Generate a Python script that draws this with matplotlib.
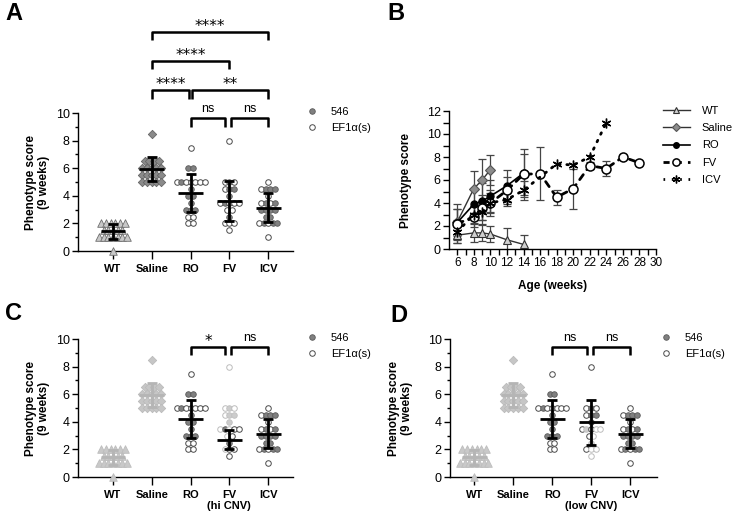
import numpy as np
import matplotlib.pyplot as plt
from matplotlib.lines import Line2D

plt.rcParams['font.family'] = ['Liberation Sans', 'DejaVu Sans']
plt.rcParams['axes.linewidth'] = 1.0

groups = ['WT', 'Saline', 'RO', 'FV', 'ICV']

# phenotype score at 9 weeks, one value per mouse
wt_scores = [2.0, 2.0, 2.0, 2.0, 2.0, 2.0, 1.5, 1.5, 1.5, 1.5, 1.5,
             1.0, 1.0, 1.0, 1.0, 1.0, 1.0, 1.0, 0.0]
saline_scores = [8.5, 6.5, 6.5, 6.5, 6.5, 6.0, 6.0, 6.0, 6.0, 6.0,
                 5.5, 5.5, 5.5, 5.5, 5.5, 5.0, 5.0, 5.0, 5.0, 5.0]
ro_546 = [6.0, 6.0, 5.0, 4.5, 4.0, 4.0, 3.5, 3.0, 3.0, 3.0]
ro_ef1 = [7.5, 5.0, 5.0, 5.0, 5.0, 5.0, 5.0, 2.5, 2.5, 2.0, 2.0]
fv_546_low = [5.0, 4.5, 4.5, 4.0]
fv_546_hi = [3.5, 2.5]
fv_ef1_low = [8.0, 5.0, 5.0, 4.5, 3.5, 3.5, 3.0, 2.0]
fv_ef1_hi = [3.5, 3.5, 3.0, 2.0, 2.0, 1.5]
icv_546 = [4.5, 4.5, 4.5, 3.5, 3.5, 3.0, 3.0, 3.0, 3.0, 2.5, 2.5, 2.0, 2.0, 2.0]
icv_ef1 = [5.0, 4.5, 4.0, 3.5, 3.5, 2.0, 2.0, 1.0]

# mean / SD as drawn
group_mean = [1.42, 5.95, 4.2, 3.62, 3.15]
group_sd = [0.57, 0.85, 1.35, 1.48, 1.05]
fv_hi_mean, fv_hi_sd = 2.7, 0.68
fv_low_mean, fv_low_sd = 3.95, 1.6

# time course (mean, SD; 0 = no bar)
wt_wk = [6, 8, 9, 10, 12, 14]
wt_m = [1.2, 1.4, 1.4, 1.3, 0.8, 0.4]
wt_sd = [0.7, 0.8, 0.7, 0.7, 1.0, 0.85]
sal_wk = [6, 8, 9, 10]
sal_m = [2.35, 5.25, 6.0, 6.9]
sal_sd = [1.6, 1.55, 1.8, 1.3]
ro_wk = [6, 8, 9, 10, 12, 14]
ro_m = [2.3, 3.9, 4.15, 4.6, 5.5, 6.6]
ro_sd = [1.2, 1.3, 1.6, 1.4, 1.35, 2.1]
fv_wk = [6, 8, 9, 10, 12, 14, 16, 18, 20, 22, 24, 26, 28]
fv_m = [2.2, 2.8, 3.6, 4.0, 5.1, 6.5, 6.55, 4.5, 5.25, 7.25, 7.0, 8.0, 7.5]
fv_sd = [1.3, 0.9, 1.1, 1.1, 1.2, 1.8, 2.3, 0.65, 1.75, 0.3, 0.65, 0, 0]
icv_wk = [6, 8, 9, 10, 12, 14, 18, 20, 22, 24]
icv_m = [1.5, 3.0, 3.2, 4.0, 4.3, 5.1, 7.4, 7.3, 8.0, 11.0]
icv_sd = [1.0, 0.7, 1.0, 0.9, 0.6, 0.8, 0, 0, 0, 0]

W, H = 737, 518
def fx(px): return px / W
def fy(py): return 1 - py / H

STYLE = {
    'wt': dict(marker='^', s=30, facecolor='#c8c8c8', edgecolor='#6e6e6e', linewidths=0.6),
    'sal': dict(marker='D', s=18, facecolor='#8a8a8a', edgecolor='#666666', linewidths=0.6),
    '546': dict(marker='o', s=16, facecolor='#808080', edgecolor='#5a5a5a', linewidths=0.6),
    'ef1': dict(marker='o', s=16, facecolor='white', edgecolor='#4a4a4a', linewidths=0.7),
    'wt_f': dict(marker='^', s=30, facecolor='#c9c9c9', edgecolor='#bdbdbd', linewidths=0.6),
    'sal_f': dict(marker='D', s=18, facecolor='#c6c6c6', edgecolor='#bbbbbb', linewidths=0.6),
    '546_f': dict(marker='o', s=16, facecolor='#cccccc', edgecolor='#c0c0c0', linewidths=0.6),
    'ef1_f': dict(marker='o', s=16, facecolor='white', edgecolor='#bdbdbd', linewidths=0.7),
}


def swarm(ax, xc, pts, step=0.12):
    rows = {}
    for v, kind in pts:
        rows.setdefault(v, []).append(kind)
    for v, kinds in rows.items():
        # mix the two vectors inside a row
        a = [k for k in kinds if k.startswith('546')]
        b = [k for k in kinds if not k.startswith('546')]
        order = []
        while a or b:
            if b: order.append(b.pop(0))
            if a: order.append(a.pop(0))
        n = len(order)
        for i, k in enumerate(order):
            ax.scatter(xc + (i - (n - 1) / 2) * step, v, zorder=3, clip_on=False, **STYLE[k])


def mean_sd(ax, xc, m, sd, color='black'):
    kw = dict(color=color, lw=2, zorder=5, solid_capstyle='butt')
    ax.plot([xc - 0.32, xc + 0.32], [m, m], **kw)
    ax.plot([xc, xc], [m - sd, m + sd], **kw)
    for y in (m - sd, m + sd):
        ax.plot([xc - 0.13, xc + 0.13], [y, y], **kw)


def bracket(ax, x1, x2, y, label, drop=0.55):
    ax.plot([x1, x1, x2, x2], [y - drop, y, y, y - drop], color='black', lw=1.8,
            clip_on=False, solid_capstyle='butt')
    if label == 'ns':
        ax.text((x1 + x2) / 2, y + 0.45, label, ha='center', va='baseline', fontsize=9)
    else:
        ax.text((x1 + x2) / 2, y + 0.1, label, ha='center', va='baseline', fontsize=11,
                family='DejaVu Sans')


def group_axes(rect, xleft, xright, labels, label_x):
    ax = fig.add_axes(rect)
    ax.set_xlim(xleft, xright)
    ax.set_ylim(0, 10)
    ax.spines[['top', 'right']].set_visible(False)
    ax.set_xticks(range(5))
    ax.set_xticklabels(labels, fontweight='bold', fontsize=8)
    ax.set_yticks(range(0, 11, 2))
    ax.set_yticks(range(1, 10, 2), minor=True)
    ax.tick_params(axis='x', length=6, width=1, pad=3)
    ax.tick_params(axis='y', which='major', length=4, width=1, pad=2, labelsize=9)
    ax.tick_params(axis='y', which='minor', length=2.5, width=1)
    ax.set_ylabel('Phenotype score\n(9 weeks)', fontweight='bold', fontsize=8.5, linespacing=1.1)
    ax.yaxis.set_label_coords(label_x, 0.5)
    return ax


def vector_legend(x_px, top_px):
    h = [Line2D([], [], ls='none', marker='o', ms=4, mfc='#808080', mec='#5a5a5a', mew=0.6),
         Line2D([], [], ls='none', marker='o', ms=4, mfc='white', mec='#4a4a4a', mew=0.7)]
    fig.legend(h, ['546', 'EF1α(s)'], loc='upper left', bbox_to_anchor=(fx(x_px), fy(top_px)),
               frameon=False, fontsize=8, borderpad=0, borderaxespad=0, handlelength=1,
               handletextpad=1.2, labelspacing=0.5)


fig = plt.figure(figsize=(7.37, 5.18), dpi=100)

# ---- A
axA = group_axes([fx(78), fy(251), fx(293) - fx(78), fy(113) - fy(251)], -0.9, 4.64, groups, -0.13)
swarm(axA, 0, [(v, 'wt') for v in wt_scores])
swarm(axA, 1, [(v, 'sal') for v in saline_scores])
swarm(axA, 2, [(v, '546') for v in ro_546] + [(v, 'ef1') for v in ro_ef1])
swarm(axA, 3, [(v, '546') for v in fv_546_low + fv_546_hi] + [(v, 'ef1') for v in fv_ef1_low + fv_ef1_hi])
swarm(axA, 4, [(v, '546') for v in icv_546] + [(v, 'ef1') for v in icv_ef1])
for i in range(5):
    mean_sd(axA, i, group_mean[i], group_sd[i])
bracket(axA, 1, 4, 15.87, '****')
bracket(axA, 1, 3, 13.77, '****')
bracket(axA, 1, 1.96, 11.67, '****', drop=0.65)
bracket(axA, 2.04, 4, 11.67, '**', drop=0.65)
bracket(axA, 2, 2.9, 9.64, 'ns', drop=0.65)
bracket(axA, 3.05, 4, 9.64, 'ns', drop=0.65)
vector_legend(306.5, 107)

# ---- C (high CNV FV)
axC = group_axes([fx(78), fy(477), fx(293) - fx(78), fy(339) - fy(477)], -0.9, 4.64,
                 ['WT', 'Saline', 'RO', 'FV\n(hi CNV)', 'ICV'], -0.13)
swarm(axC, 0, [(v, 'wt_f') for v in wt_scores])
swarm(axC, 1, [(v, 'sal_f') for v in saline_scores])
swarm(axC, 2, [(v, '546') for v in ro_546] + [(v, 'ef1') for v in ro_ef1])
swarm(axC, 3, [(v, '546_f') for v in fv_546_low] + [(v, '546') for v in fv_546_hi]
      + [(v, 'ef1_f') for v in fv_ef1_low] + [(v, 'ef1') for v in fv_ef1_hi])
swarm(axC, 4, [(v, '546') for v in icv_546] + [(v, 'ef1') for v in icv_ef1])
mean_sd(axC, 0, group_mean[0], group_sd[0], color='#b5b5b5')
mean_sd(axC, 1, group_mean[1], group_sd[1], color='#b5b5b5')
mean_sd(axC, 2, group_mean[2], group_sd[2])
mean_sd(axC, 3, fv_hi_mean, fv_hi_sd)
mean_sd(axC, 4, group_mean[4], group_sd[4])
bracket(axC, 2, 2.9, 9.42, '*', drop=0.55)
bracket(axC, 3.05, 4, 9.42, 'ns', drop=0.55)
vector_legend(306.5, 333)

# ---- D (low CNV FV)
axD = group_axes([fx(450), fy(477), fx(657) - fx(450), fy(339) - fy(477)], -0.62, 4.69,
                 ['WT', 'Saline', 'RO', 'FV\n(low CNV)', 'ICV'], -0.18)
swarm(axD, 0, [(v, 'wt_f') for v in wt_scores])
swarm(axD, 1, [(v, 'sal_f') for v in saline_scores])
swarm(axD, 2, [(v, '546') for v in ro_546] + [(v, 'ef1') for v in ro_ef1])
swarm(axD, 3, [(v, '546') for v in fv_546_low] + [(v, '546_f') for v in fv_546_hi]
      + [(v, 'ef1') for v in fv_ef1_low] + [(v, 'ef1_f') for v in fv_ef1_hi])
swarm(axD, 4, [(v, '546') for v in icv_546] + [(v, 'ef1') for v in icv_ef1])
mean_sd(axD, 0, group_mean[0], group_sd[0], color='#b5b5b5')
mean_sd(axD, 1, group_mean[1], group_sd[1], color='#b5b5b5')
mean_sd(axD, 2, group_mean[2], group_sd[2])
mean_sd(axD, 3, fv_low_mean, fv_low_sd)
mean_sd(axD, 4, group_mean[4], group_sd[4])
bracket(axD, 2, 2.9, 9.42, 'ns', drop=0.55)
bracket(axD, 3.05, 4, 9.42, 'ns', drop=0.55)
vector_legend(660.5, 333)

# ---- B time course
axB = fig.add_axes([fx(449), fy(249), fx(656) - fx(449), fy(111) - fy(249)])
axB.set_xlim(5, 30)
axB.set_ylim(0, 12)
axB.spines[['top', 'right']].set_visible(False)
axB.set_xticks(range(6, 31, 2))
axB.set_xticks(range(7, 30, 2), minor=True)
axB.set_yticks(range(0, 13, 2))
axB.set_yticks(range(1, 12, 2), minor=True)
axB.tick_params(axis='both', which='major', length=4, width=1, pad=2)
axB.tick_params(axis='both', which='minor', length=4, width=1)
axB.tick_params(axis='x', labelsize=8.5)
axB.tick_params(axis='y', labelsize=9)
axB.set_ylabel('Phenotype score', fontweight='bold', fontsize=8.5)
axB.yaxis.set_label_coords(-0.18, 0.5)
axB.set_xlabel('Age (weeks)', fontweight='bold', fontsize=8.5, labelpad=8)

series = [
    ('WT', wt_wk, wt_m, wt_sd, dict(color='#333333', lw=1, ls='-', marker='^', ms=6, mfc='#d0d0d0', mec='#333333', mew=0.8)),
    ('Saline', sal_wk, sal_m, sal_sd, dict(color='#333333', lw=1, ls='-', marker='D', ms=5, mfc='#8c8c8c', mec='#555555', mew=0.8)),
    ('RO', ro_wk, ro_m, ro_sd, dict(color='black', lw=1.2, ls='-', marker='o', ms=5, mfc='black', mec='black')),
    ('FV', fv_wk, fv_m, fv_sd, dict(color='black', lw=2, ls=(0, (2.2, 2.2)), marker='o', ms=6.5, mfc='white', mec='black', mew=1.1)),
    ('ICV', icv_wk, icv_m, icv_sd, dict(color='black', lw=2, ls=(0, (0.6, 2.4)), marker=(6, 2, 0), ms=7, mec='black', mew=1.0)),
]
handles = []
for name, wk, m, sd, kw in series:
    wk, m, sd = np.asarray(wk), np.asarray(m), np.asarray(sd)
    has = sd > 0
    axB.errorbar(wk[has], m[has], yerr=sd[has], fmt='none', ecolor='#454545',
                 elinewidth=0.9, capsize=3, capthick=0.9, zorder=2)
    axB.plot(wk, m, zorder=3, dash_capstyle='round', **kw)
    hk = dict(kw)
    hk['ms'] = kw['ms'] * 0.8
    handles.append(Line2D([], [], **hk))
fig.legend(handles, [s[0] for s in series], loc='upper left', bbox_to_anchor=(fx(663), fy(106)),
           frameon=False, fontsize=8, borderpad=0, borderaxespad=0, handlelength=2.4,
           handletextpad=1.1, labelspacing=0.65)

# panel letters
for letter, x, y in [('A', 5, 20), ('B', 387, 20), ('C', 5, 320), ('D', 390, 322)]:
    fig.text(fx(x), fy(y), letter, fontsize=17, fontweight='bold', va='baseline', ha='left')

fig.savefig('out.png', dpi=100)
